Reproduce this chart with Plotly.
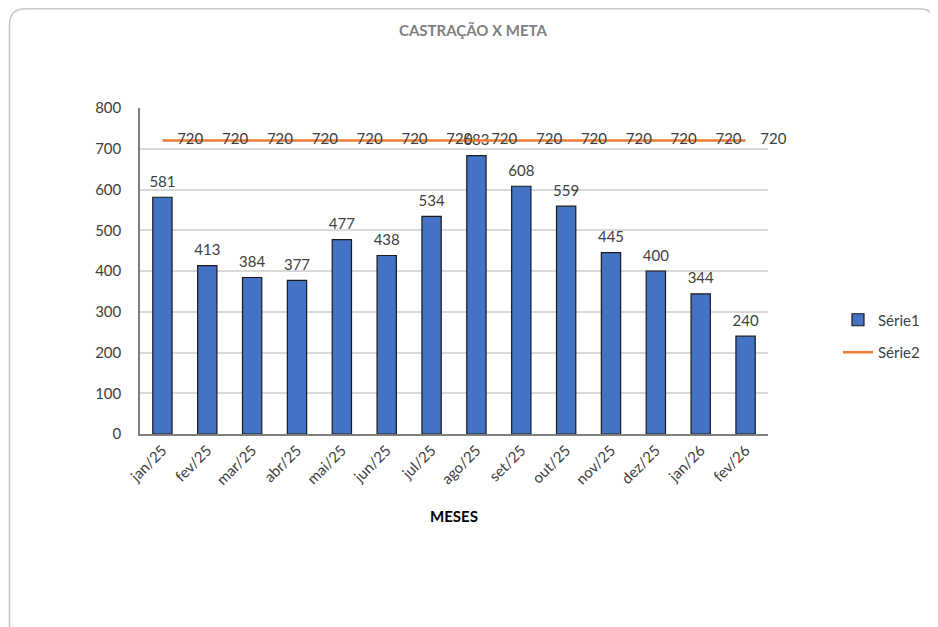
import plotly.graph_objects as go

meses = ["jan/25", "fev/25", "mar/25", "abr/25", "mai/25", "jun/25", "jul/25",
         "ago/25", "set/25", "out/25", "nov/25", "dez/25", "jan/26", "fev/26"]
castracao = [581, 413, 384, 377, 477, 438, 534, 683, 608, 559, 445, 400, 344, 240]
meta = [720] * 14

FONT = "Lato, 'Open Sans', sans-serif"
FS = 15

# figure size and plot area in pixels (page body adds an 8px margin)
W, H = 930, 619
L, R, T, B = 132, 760, 100, 426


def px(x, y):
    return (x - L) / (R - L), (B - y) / (B - T)


def frame_path(x0, y0, x1, y1, r):
    pts = [
        ("M", [(x0 + r, y0)]),
        ("L", [(x1 - r, y0)]),
        ("Q", [(x1, y0), (x1, y0 + r)]),
        ("L", [(x1, y1 - r)]),
        ("Q", [(x1, y1), (x1 - r, y1)]),
        ("L", [(x0 + r, y1)]),
        ("Q", [(x0, y1), (x0, y1 - r)]),
        ("L", [(x0, y0 + r)]),
        ("Q", [(x0, y0), (x0 + r, y0)]),
    ]
    out = []
    for cmd, ps in pts:
        out.append(cmd + " ".join("%.5f,%.5f" % px(a, b) for a, b in ps))
    return " ".join(out) + " Z"


bars = go.Bar(
    x=meses,
    y=castracao,
    name="Série1",
    legendgroup="s1",
    marker=dict(color="#4472C4", line=dict(color="#1a1a1a", width=1.2)),
)

# value labels above the bars
rotulos = go.Scatter(
    x=meses,
    y=castracao,
    mode="markers+text",
    marker=dict(size=9, color="rgba(0,0,0,0)"),
    text=castracao,
    textposition="top center",
    textfont=dict(family=FONT, size=FS, color="#404040"),
    showlegend=False,
    hoverinfo="skip",
    cliponaxis=False,
)

linha = go.Scatter(
    x=meses,
    y=meta,
    name="Série2",
    legendgroup="s2",
    mode="lines+markers+text",
    line=dict(color="#ED7D31", width=2.5),
    marker=dict(size=22, color="rgba(0,0,0,0)"),
    text=meta,
    textposition="middle right",
    textfont=dict(family=FONT, size=FS, color="#404040"),
    cliponaxis=False,
)

fig = go.Figure(data=[bars, rotulos, linha])

fig.update_layout(
    width=W,
    height=H,
    paper_bgcolor="white",
    plot_bgcolor="white",
    margin=dict(l=L, r=W - R, t=T, b=H - B),
    bargap=0.57,
    title=dict(
        text="<b>CASTRAÇÃO X META</b>",
        x=0.5,
        xanchor="center",
        y=1 - 23 / H,
        yanchor="middle",
        font=dict(family=FONT, size=FS, color="#7f7f7f"),
    ),
    font=dict(family=FONT, color="#404040"),
    legend=dict(
        x=px(830, 0)[0],
        y=px(0, 328)[1],
        xanchor="left",
        yanchor="middle",
        font=dict(family=FONT, size=FS, color="#404040"),
        bgcolor="rgba(0,0,0,0)",
        tracegroupgap=10,
    ),
    shapes=[
        dict(
            type="path",
            xref="paper",
            yref="paper",
            path=frame_path(1.5, 0.8, 927, 650, 16),
            line=dict(color="#c8c8c8", width=1.5),
            layer="below",
        )
    ],
)

fig.update_xaxes(
    range=[-0.5, 13.5],
    tickangle=-45,
    tickfont=dict(family=FONT, size=FS, color="#404040"),
    showline=True,
    linecolor="#7f7f7f",
    linewidth=1.5,
    ticks="",
    title=dict(text="<b>MESES</b>", font=dict(family=FONT, size=FS, color="#000000"), standoff=24),
)

fig.update_yaxes(
    range=[0, 800],
    dtick=100,
    tickfont=dict(family=FONT, size=FS, color="#404040"),
    showgrid=True,
    gridcolor="#d9d9d9",
    gridwidth=1.5,
    showline=True,
    linecolor="#7f7f7f",
    linewidth=1.5,
    ticks="",
    ticklabelstandoff=14,
    zeroline=False,
)

fig.write_html("out.html")
